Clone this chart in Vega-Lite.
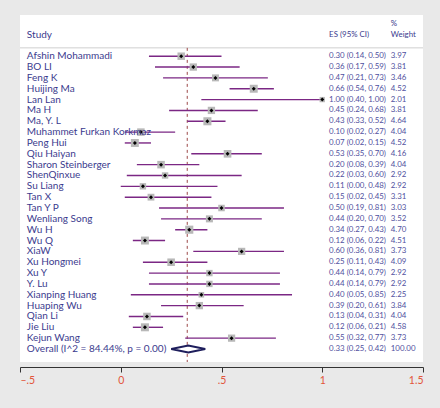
{
  "$schema": "https://vega.github.io/schema/vega-lite/v6.json",
  "width": 403,
  "height": 347,
  "autosize": {"type": "none"},
  "padding": {"left": 20, "top": 15, "right": 17, "bottom": 46},
  "background": "#e9e9e9",
  "config": {"view": {"fill": "white", "stroke": null}, "font": "Lato"},
  "datasets": {
    "rows": [
      {"kind": "study", "study": "Afshin Mohammadi", "label": "Afshin Mohammadi", "es": 0.30, "lo": 0.14, "hi": 0.50, "w": 3.97, "ci": "0.30 (0.14, 0.50)", "wt": "3.97"},
      {"kind": "study", "study": "BO LI", "label": "BO LI", "es": 0.36, "lo": 0.17, "hi": 0.59, "w": 3.81, "ci": "0.36 (0.17, 0.59)", "wt": "3.81"},
      {"kind": "study", "study": "Feng K", "label": "Feng K", "es": 0.47, "lo": 0.21, "hi": 0.73, "w": 3.46, "ci": "0.47 (0.21, 0.73)", "wt": "3.46"},
      {"kind": "study", "study": "Huijing Ma", "label": "Huijing Ma", "es": 0.66, "lo": 0.54, "hi": 0.76, "w": 4.52, "ci": "0.66 (0.54, 0.76)", "wt": "4.52"},
      {"kind": "study", "study": "Lan Lan", "label": "Lan Lan", "es": 1.00, "lo": 0.40, "hi": 1.00, "w": 2.01, "ci": "1.00 (0.40, 1.00)", "wt": "2.01"},
      {"kind": "study", "study": "Ma H", "label": "Ma H", "es": 0.45, "lo": 0.24, "hi": 0.68, "w": 3.81, "ci": "0.45 (0.24, 0.68)", "wt": "3.81"},
      {"kind": "study", "study": "Ma, Y. L", "label": "Ma, Y. L", "es": 0.43, "lo": 0.33, "hi": 0.52, "w": 4.64, "ci": "0.43 (0.33, 0.52)", "wt": "4.64"},
      {"kind": "study", "study": "Muhammet Furkan Korkmaz", "label": "Muhammet Furkan Korkmaz", "es": 0.10, "lo": 0.02, "hi": 0.27, "w": 4.04, "ci": "0.10 (0.02, 0.27)", "wt": "4.04"},
      {"kind": "study", "study": "Peng Hui", "label": "Peng Hui", "es": 0.07, "lo": 0.02, "hi": 0.15, "w": 4.52, "ci": "0.07 (0.02, 0.15)", "wt": "4.52"},
      {"kind": "study", "study": "Qiu Haiyan", "label": "Qiu Haiyan", "es": 0.53, "lo": 0.35, "hi": 0.70, "w": 4.16, "ci": "0.53 (0.35, 0.70)", "wt": "4.16"},
      {"kind": "study", "study": "Sharon Steinberger", "label": "Sharon Steinberger", "es": 0.20, "lo": 0.08, "hi": 0.39, "w": 4.04, "ci": "0.20 (0.08, 0.39)", "wt": "4.04"},
      {"kind": "study", "study": "ShenQinxue", "label": "ShenQinxue", "es": 0.22, "lo": 0.03, "hi": 0.60, "w": 2.92, "ci": "0.22 (0.03, 0.60)", "wt": "2.92"},
      {"kind": "study", "study": "Su Liang", "label": "Su Liang", "es": 0.11, "lo": 0.00, "hi": 0.48, "w": 2.92, "ci": "0.11 (0.00, 0.48)", "wt": "2.92"},
      {"kind": "study", "study": "Tan X", "label": "Tan X", "es": 0.15, "lo": 0.02, "hi": 0.45, "w": 3.31, "ci": "0.15 (0.02, 0.45)", "wt": "3.31"},
      {"kind": "study", "study": "Tan Y P", "label": "Tan Y P", "es": 0.50, "lo": 0.19, "hi": 0.81, "w": 3.03, "ci": "0.50 (0.19, 0.81)", "wt": "3.03"},
      {"kind": "study", "study": "Wenliang Song", "label": "Wenliang Song", "es": 0.44, "lo": 0.20, "hi": 0.70, "w": 3.52, "ci": "0.44 (0.20, 0.70)", "wt": "3.52"},
      {"kind": "study", "study": "Wu H", "label": "Wu H", "es": 0.34, "lo": 0.27, "hi": 0.43, "w": 4.70, "ci": "0.34 (0.27, 0.43)", "wt": "4.70"},
      {"kind": "study", "study": "Wu Q", "label": "Wu Q", "es": 0.12, "lo": 0.06, "hi": 0.22, "w": 4.51, "ci": "0.12 (0.06, 0.22)", "wt": "4.51"},
      {"kind": "study", "study": "XiaW", "label": "XiaW", "es": 0.60, "lo": 0.36, "hi": 0.81, "w": 3.73, "ci": "0.60 (0.36, 0.81)", "wt": "3.73"},
      {"kind": "study", "study": "Xu Hongmei", "label": "Xu Hongmei", "es": 0.25, "lo": 0.11, "hi": 0.43, "w": 4.09, "ci": "0.25 (0.11, 0.43)", "wt": "4.09"},
      {"kind": "study", "study": "Xu Y", "label": "Xu Y", "es": 0.44, "lo": 0.14, "hi": 0.79, "w": 2.92, "ci": "0.44 (0.14, 0.79)", "wt": "2.92"},
      {"kind": "study", "study": "Y. Lu", "label": "Y. Lu", "es": 0.44, "lo": 0.14, "hi": 0.79, "w": 2.92, "ci": "0.44 (0.14, 0.79)", "wt": "2.92"},
      {"kind": "study", "study": "Xianping Huang", "label": "Xianping Huang", "es": 0.40, "lo": 0.05, "hi": 0.85, "w": 2.25, "ci": "0.40 (0.05, 0.85)", "wt": "2.25"},
      {"kind": "study", "study": "Huaping Wu", "label": "Huaping Wu", "es": 0.39, "lo": 0.20, "hi": 0.61, "w": 3.84, "ci": "0.39 (0.20, 0.61)", "wt": "3.84"},
      {"kind": "study", "study": "Qian Li", "label": "Qian Li", "es": 0.13, "lo": 0.04, "hi": 0.31, "w": 4.04, "ci": "0.13 (0.04, 0.31)", "wt": "4.04"},
      {"kind": "study", "study": "Jie Liu", "label": "Jie Liu", "es": 0.12, "lo": 0.06, "hi": 0.21, "w": 4.58, "ci": "0.12 (0.06, 0.21)", "wt": "4.58"},
      {"kind": "study", "study": "Kejun Wang", "label": "Kejun Wang", "es": 0.55, "lo": 0.32, "hi": 0.77, "w": 3.73, "ci": "0.55 (0.32, 0.77)", "wt": "3.73"},
      {"kind": "overall", "study": "Overall", "label": "Overall  (I^2 = 84.44%, p = 0.00)", "es": 0.335, "lo": 0.25, "hi": 0.42, "w": 100, "ci": "0.33 (0.25, 0.42)", "wt": "100.00"}
    ]
  },
  "data": {"name": "rows"},
  "layer": [
    {
      "data": {"values": [{}]},
      "mark": {"type": "rule", "color": "#cfcfcf", "strokeWidth": 1, "yOffset": 2.5},
      "encoding": {
        "y": {"datum": "sep", "type": "nominal", "axis": null, "scale": {"type": "point", "domain": ["%", "Study", "sep", "Afshin Mohammadi", "BO LI", "Feng K", "Huijing Ma", "Lan Lan", "Ma H", "Ma, Y. L", "Muhammet Furkan Korkmaz", "Peng Hui", "Qiu Haiyan", "Sharon Steinberger", "ShenQinxue", "Su Liang", "Tan X", "Tan Y P", "Wenliang Song", "Wu H", "Wu Q", "XiaW", "Xu Hongmei", "Xu Y", "Y. Lu", "Xianping Huang", "Huaping Wu", "Qian Li", "Jie Liu", "Kejun Wang", "Overall"], "padding": 1.336, "align": 0.4}}
      }
    },
    {
      "data": {"values": [{"pooled": 0.33}]},
      "mark": {"type": "rule", "color": "#9c4848", "strokeWidth": 1, "strokeDash": [3, 3], "yOffset": 2.5},
      "encoding": {
        "x": {"field": "pooled", "type": "quantitative", "scale": {"domain": [-0.5, 1.5], "nice": false, "zero": false}, "axis": {"values": [-0.5, 0, 0.5, 1, 1.5], "labelExpr": "datum.value == -0.5 ? '–.5' : (datum.value == 0 ? '0' : (datum.value == 0.5 ? '.5' : (datum.value == 1 ? '1' : '1.5')))", "title": null, "grid": false, "offset": 5, "domainColor": "#333333", "tickColor": "#333333", "tickSize": 5, "labelColor": "#e2553a", "labelFontSize": 10.5, "labelPadding": 3, "labelFont": "Lato"}},
        "y": {"datum": "sep", "type": "nominal"},
        "y2": {"value": "height"}
      }
    },
    {
      "transform": [{"filter": "datum.kind == 'study'"}],
      "mark": {"type": "rule", "color": "#7b2784", "strokeWidth": 1.4},
      "encoding": {
        "x": {"field": "lo", "type": "quantitative"},
        "x2": {"field": "hi"},
        "y": {"field": "study", "type": "nominal"}
      }
    },
    {
      "transform": [{"filter": "datum.kind == 'study'"}],
      "mark": {"type": "point", "shape": "square", "filled": true, "color": "#b8b8b8", "opacity": 1},
      "encoding": {
        "x": {"field": "es", "type": "quantitative"},
        "y": {"field": "study", "type": "nominal"},
        "size": {"field": "w", "type": "quantitative", "scale": {"type": "linear", "domain": [0, 5], "range": [0, 70]}, "legend": null}
      }
    },
    {
      "transform": [{"filter": "datum.kind == 'study'"}],
      "mark": {"type": "point", "shape": "diamond", "filled": true, "color": "#000000", "size": 16, "opacity": 1},
      "encoding": {
        "x": {"field": "es", "type": "quantitative"},
        "y": {"field": "study", "type": "nominal"}
      }
    },
    {
      "transform": [{"filter": "datum.kind == 'overall'"}],
      "mark": {"type": "point", "shape": "M-1,0L0,-0.21L1,0L0,0.21Z", "size": 1156, "filled": false, "stroke": "#1e1e5c", "strokeWidth": 2, "fill": "white", "opacity": 1},
      "encoding": {
        "x": {"field": "es", "type": "quantitative"},
        "y": {"field": "study", "type": "nominal"}
      }
    },
    {
      "mark": {"type": "text", "align": "left", "baseline": "middle", "fontSize": 10, "color": "#3b3b8e"},
      "encoding": {
        "x": {"datum": -0.466, "type": "quantitative"},
        "y": {"field": "study", "type": "nominal"},
        "text": {"field": "label"}
      }
    },
    {
      "mark": {"type": "text", "align": "left", "baseline": "middle", "fontSize": 7.9, "color": "#50509e"},
      "encoding": {
        "x": {"datum": 1.034, "type": "quantitative"},
        "y": {"field": "study", "type": "nominal"},
        "text": {"field": "ci"}
      }
    },
    {
      "mark": {"type": "text", "align": "left", "baseline": "middle", "fontSize": 7.9, "color": "#50509e"},
      "encoding": {
        "x": {"datum": 1.34, "type": "quantitative"},
        "y": {"field": "study", "type": "nominal"},
        "text": {"field": "wt"}
      }
    },
    {
      "data": {"values": [{}]},
      "mark": {"type": "text", "align": "left", "baseline": "middle", "fontSize": 10, "color": "#3b3b8e", "text": "Study"},
      "encoding": {
        "x": {"datum": -0.466, "type": "quantitative"},
        "y": {"datum": "Study", "type": "nominal"}
      }
    },
    {
      "data": {"values": [{}]},
      "mark": {"type": "text", "align": "left", "baseline": "middle", "fontSize": 7.9, "color": "#3b3b8e", "text": "ES (95% CI)"},
      "encoding": {
        "x": {"datum": 1.034, "type": "quantitative"},
        "y": {"datum": "Study", "type": "nominal"}
      }
    },
    {
      "data": {"values": [{}]},
      "mark": {"type": "text", "align": "left", "baseline": "middle", "fontSize": 7.9, "color": "#3b3b8e", "text": "Weight"},
      "encoding": {
        "x": {"datum": 1.34, "type": "quantitative"},
        "y": {"datum": "Study", "type": "nominal"}
      }
    },
    {
      "data": {"values": [{}]},
      "mark": {"type": "text", "align": "left", "baseline": "middle", "fontSize": 7.9, "color": "#3b3b8e", "text": "%"},
      "encoding": {
        "x": {"datum": 1.34, "type": "quantitative"},
        "y": {"datum": "%", "type": "nominal"}
      }
    }
  ]
}
